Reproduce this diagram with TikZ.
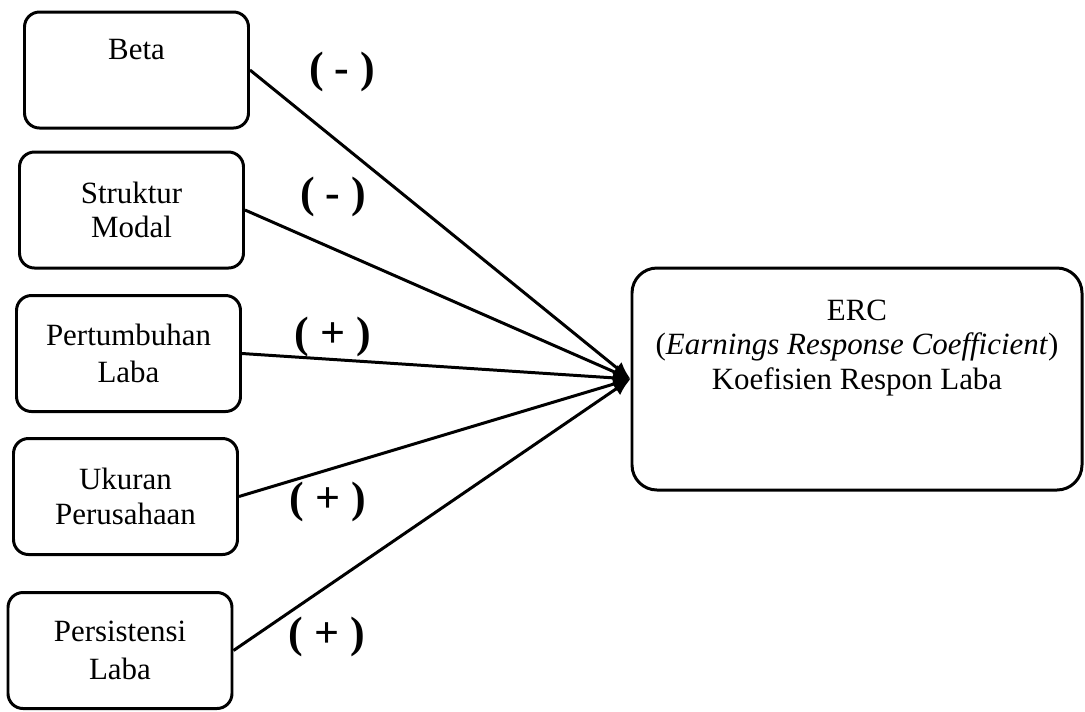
\documentclass[tikz,border=0pt]{standalone}
\usepackage{fontspec}
\setmainfont{Liberation Serif}
\usepackage{tikz}
\usepackage{xcolor}
\usetikzlibrary{positioning,arrows.meta}
\definecolor{ink}{HTML}{000000}

\begin{document}
\begin{tikzpicture}[
  every node/.style={font=\fontsize{17.6}{19.5}\selectfont},
  varbox/.style={
    rectangle, rounded corners=0.3cm,
    draw=ink, line width=1.7pt,
    fill=white, minimum height=2.32cm, minimum width=4.48cm, align=center,
    inner sep=2pt
  },
  ercbox/.style={
    rectangle, rounded corners=0.5cm,
    draw=ink, line width=1.7pt,
    fill=white, minimum height=4.44cm, minimum width=9.0cm, align=center
  },
  sign/.style={font=\fontsize{25}{27}\selectfont\bfseries, color=ink},
  arr/.style={-{Latex[length=3.5mm,width=3mm]}, line width=1.7pt, draw=ink}
]
\useasboundingbox (0,0) rectangle (21.7,-14.22);

% --- VARIABLES (left) ---
\node[varbox] (beta) at (2.73,-1.40) {Beta\\[4pt]~};
\node[varbox] (struktur) at (2.63,-4.20) {Struktur\\Modal};
\node[varbox] (tumbuh) at (2.57,-7.07) {Pertumbuhan\\[2pt]Laba};
\node[varbox] (ukuran) at (2.51,-9.93) {Ukuran\\Perusahaan};
\node[varbox] (persist) at (2.40,-13.01) {Persistensi\\[2pt]Laba};

% --- ERC (right) ---
\node[ercbox] (erc) at (17.14,-7.58) {ERC\\(\textit{Earnings Response Coefficient})\\Koefisien Respon Laba\\~\\~};

% Arrows into ERC
\foreach \v in {beta,struktur,tumbuh,ukuran,persist} {
  \draw[arr] (\v.east) -- (erc.west);
}

% Signs
\node[sign] (s1) at (6.84,-1.44) {( - )};
\node[sign] (s2) at (6.66,-3.94) {( - )};
\node[sign] (s3) at (6.66,-6.74) {( + )};
\node[sign] (s4) at (6.56,-10.04) {( + )};
\node[sign] (s5) at (6.54,-12.74) {( + )};

\end{tikzpicture}
\end{document}
